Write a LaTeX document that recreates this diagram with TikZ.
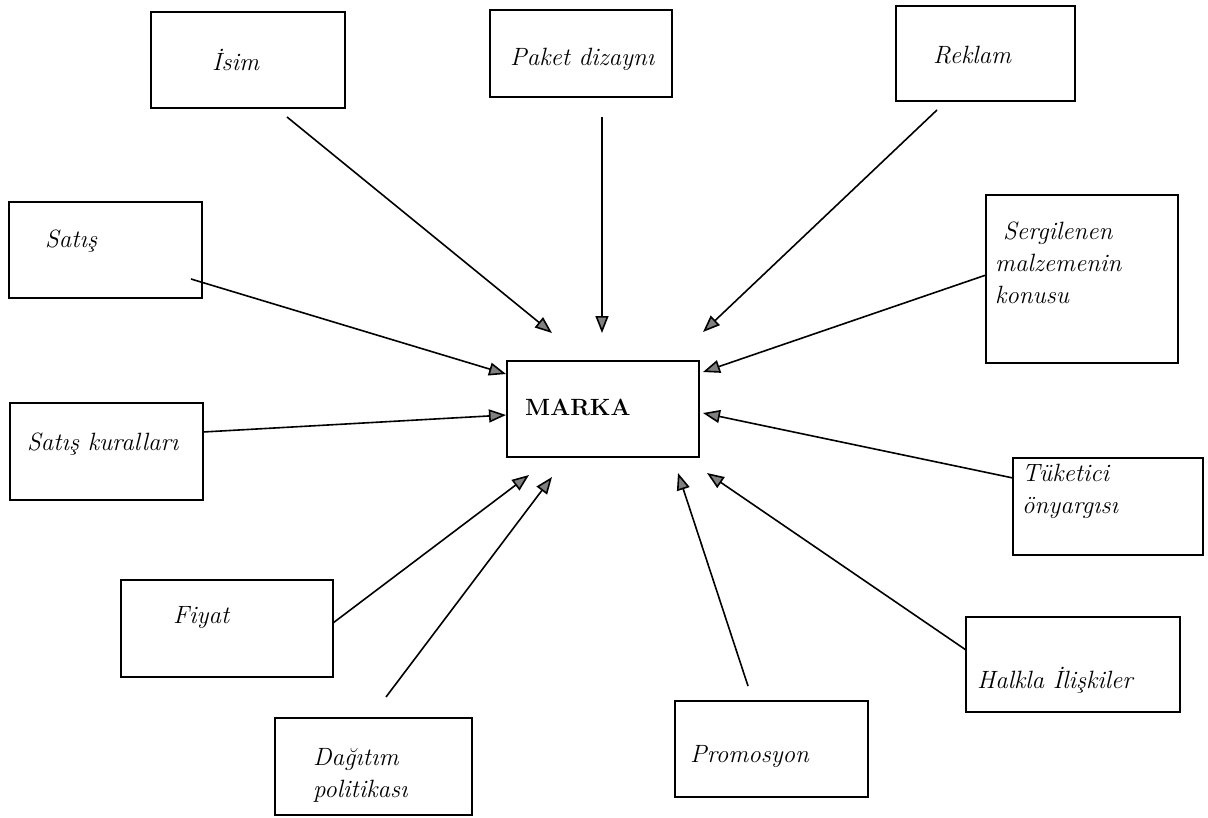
\documentclass[tikz,border=0pt]{standalone}
\usetikzlibrary{arrows.meta}
\begin{document}
\begin{tikzpicture}[x=1pt,y=-1pt,
  box/.style={draw=black, line width=2pt, inner sep=0pt, rectangle},
  lbl/.style={anchor=base west, inner sep=0pt, align=left, font=\fontsize{25}{32}\selectfont\itshape},
  mlbl/.style={anchor=base west, inner sep=0pt, font=\fontsize{23.5}{28}\selectfont\bfseries},
  arr/.style={line width=1.6pt, -{Triangle[length=17pt,width=13pt,fill=black!50,line width=1.6pt]}}
]
\useasboundingbox (0,0) rectangle (1208,817);
\fill[white] (0,0) rectangle (1208,817);
% boxes
\node[box, minimum width=194pt, minimum height=96pt] (isim) at (248,60) {};
\node[box, minimum width=182pt, minimum height=87pt] (paket) at (581,53.5) {};
\node[box, minimum width=179pt, minimum height=95pt] (reklam) at (985.5,53.5) {};
\node[box, minimum width=193pt, minimum height=96pt] (satis) at (105.5,250) {};
\node[box, minimum width=192pt, minimum height=168pt] (serg) at (1082,279) {};
\node[box, minimum width=192pt, minimum height=96pt] (marka) at (603,409) {};
\node[box, minimum width=193pt, minimum height=97pt] (skural) at (106.5,451.5) {};
\node[box, minimum width=190pt, minimum height=97pt] (tuk) at (1108,506.5) {};
\node[box, minimum width=212pt, minimum height=97pt] (fiyat) at (227,628.5) {};
\node[box, minimum width=214pt, minimum height=95pt] (halkla) at (1073,664.5) {};
\node[box, minimum width=197pt, minimum height=97pt] (dagitim) at (373.5,766.5) {};
\node[box, minimum width=193pt, minimum height=96pt] (promo) at (771.5,749) {};
% labels (multi-line labels are placed by their last baseline)
\node[lbl] (tisim) at (212,70) {İsim};
\node[lbl] (tpaket) at (510,65) {Paket dizaynı};
\node[lbl] (treklam) at (933,63) {Reklam};
\node[lbl] (tsatis) at (45,247) {Satış};
\node[lbl] (tserg) at (995,303) {\hspace{8pt}Sergilenen\\malzemenin\\konusu};
\node[mlbl] (tmarka) at (525,415) {MARKA};
\node[lbl] (tskural) at (27,450) {Satış kuralları};
\node[lbl] (ttuk) at (1022,513) {Tüketici\\önyargısı};
\node[lbl] (tfiyat) at (173,623) {Fiyat};
\node[lbl] (tdagitim) at (313,797) {Dağıtım\\politikası};
\node[lbl] (tpromo) at (690,762) {Promosyon};
\node[lbl] (thalkla) at (977,688) {Halkla İlişkiler};
% connector ends
\coordinate (s1) at (287,117);  \coordinate (e1) at (552,333);
\coordinate (s2) at (602,117);  \coordinate (e2) at (602,333);
\coordinate (s3) at (937,110);  \coordinate (e3) at (703,332);
\coordinate (s4) at (191,279);  \coordinate (e4) at (506,374);
\coordinate (s5) at (986,275);  \coordinate (e5) at (703,372);
\coordinate (s6) at (203,432);  \coordinate (e6) at (506,415);
\coordinate (s7) at (1013,478); \coordinate (e7) at (703,413);
\coordinate (s8) at (333,623);  \coordinate (e8) at (529,475);
\coordinate (s9) at (386,697);  \coordinate (e9) at (552,477);
\coordinate (s10) at (748,686); \coordinate (e10) at (678,473);
\coordinate (s11) at (966,650); \coordinate (e11) at (707,473);
\draw[arr] (s1) -- (e1);
\draw[arr] (s2) -- (e2);
\draw[arr] (s3) -- (e3);
\draw[arr] (s4) -- (e4);
\draw[arr] (s5) -- (e5);
\draw[arr] (s6) -- (e6);
\draw[arr] (s7) -- (e7);
\draw[arr] (s8) -- (e8);
\draw[arr] (s9) -- (e9);
\draw[arr] (s10) -- (e10);
\draw[arr] (s11) -- (e11);
\end{tikzpicture}
\end{document}
